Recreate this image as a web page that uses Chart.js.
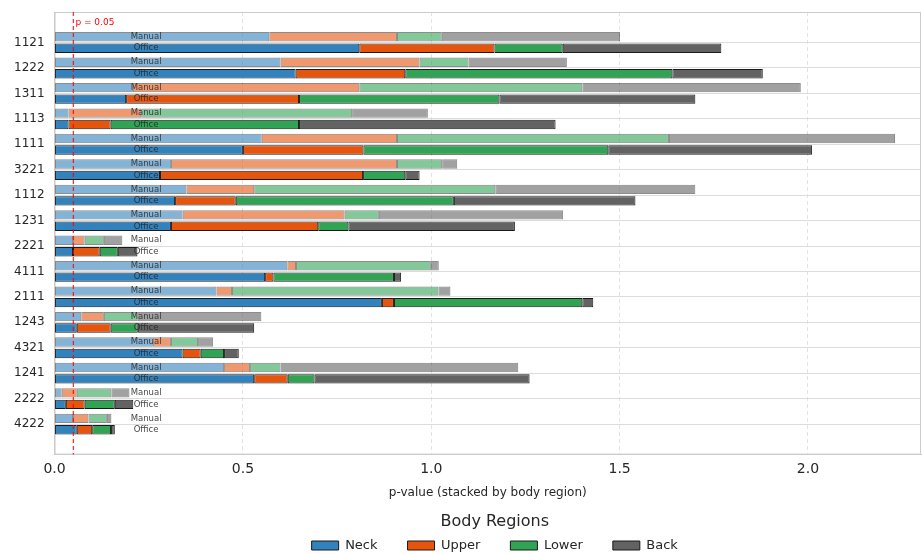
<!DOCTYPE html>
<html>
<head>
<meta charset="utf-8">
<script src="https://cdn.jsdelivr.net/npm/chart.js@4"></script>
<style>
  html, body { margin: 0; padding: 0; background: #fff; }
  #wrap { width: 922px; height: 554px; }
</style>
</head>
<body>
<div id="wrap"><canvas id="chart" width="922" height="554"></canvas></div>
<script>
    "use strict";

    // Job codes, top to bottom
    var codes = ['1121', '1222', '1311', '1113', '1111', '3221', '1112', '1231',
                 '2221', '4111', '2111', '1243', '4321', '1241', '2222', '4222'];

    var regions = ['Neck', 'Upper', 'Lower', 'Back'];

    // p-values per body region, Manual group
    var manualNeck  = [0.570, 0.600, 0.208, 0.037, 0.550, 0.309, 0.350, 0.340, 0.049, 0.618, 0.430, 0.071, 0.261, 0.450, 0.019, 0.049];
    var manualUpper = [0.339, 0.369, 0.601, 0.193, 0.359, 0.600, 0.180, 0.430, 0.031, 0.023, 0.041, 0.060, 0.048, 0.069, 0.040, 0.041];
    var manualLower = [0.119, 0.130, 0.592, 0.560, 0.722, 0.120, 0.640, 0.091, 0.051, 0.358, 0.548, 0.090, 0.072, 0.081, 0.092, 0.049];
    var manualBack  = [0.473, 0.261, 0.580, 0.201, 0.600, 0.040, 0.531, 0.489, 0.049, 0.021, 0.032, 0.328, 0.040, 0.631, 0.048, 0.012];

    // p-values per body region, Office group
    var officeNeck  = [0.809, 0.640, 0.190, 0.037, 0.500, 0.280, 0.320, 0.309, 0.049, 0.559, 0.869, 0.059, 0.340, 0.530, 0.030, 0.059];
    var officeUpper = [0.359, 0.291, 0.459, 0.112, 0.320, 0.539, 0.161, 0.391, 0.071, 0.022, 0.032, 0.090, 0.048, 0.089, 0.050, 0.041];
    var officeLower = [0.181, 0.709, 0.532, 0.500, 0.650, 0.112, 0.579, 0.080, 0.048, 0.320, 0.500, 0.072, 0.062, 0.071, 0.080, 0.050];
    var officeBack  = [0.421, 0.240, 0.520, 0.681, 0.541, 0.038, 0.482, 0.442, 0.052, 0.019, 0.029, 0.309, 0.039, 0.571, 0.049, 0.010];

    var xTicks = [0, 0.5, 1.0, 1.5, 2.0];
    var pThreshold = 0.05;

    var colors = ['#3182bd', '#e6550d', '#31a354', '#636363'];
    var manualColors = ['rgba(49,130,189,0.6)', 'rgba(230,85,13,0.6)', 'rgba(49,163,84,0.6)', 'rgba(99,99,99,0.6)'];

    var manualSeries = [manualNeck, manualUpper, manualLower, manualBack];
    var officeSeries = [officeNeck, officeUpper, officeLower, officeBack];

    function toPoints(values) {
        return values.map(function (v, i) { return {x: v, y: i}; });
    }

    var datasets = [];
    regions.forEach(function (r, k) {
        datasets.push({
            label: r + ' (Manual)',
            stack: 'Manual',
            data: toPoints(manualSeries[k]),
            backgroundColor: manualColors[k],
            borderColor: 'rgba(0,0,0,0.45)',
            borderWidth: 1,
            borderSkipped: false
        });
    });
    regions.forEach(function (r, k) {
        datasets.push({
            label: r,
            stack: 'Office',
            data: toPoints(officeSeries[k]),
            backgroundColor: colors[k],
            borderColor: '#1a1a1a',
            borderWidth: 1,
            borderSkipped: false
        });
    });

    // Frame, group labels and the p = 0.05 line
    var annotations = {
        id: 'annotations',
        afterLayout: function (chart) {
            // center the legend under the plot area rather than the canvas
            var lg = chart.legend;
            var shift = (chart.chartArea.left + chart.chartArea.right) / 2 - (lg.left + lg.right) / 2 + 7;
            lg.left += shift;
            lg.right += shift;
        },
        beforeDatasetsDraw: function (chart) {
            var ctx = chart.ctx, a = chart.chartArea;
            ctx.save();
            ctx.strokeStyle = '#cccccc';
            ctx.lineWidth = 1;
            ctx.strokeRect(a.left + 0.5, a.top + 0.5, a.right - a.left - 1, a.bottom - a.top - 1);
            ctx.restore();
        },
        afterDatasetsDraw: function (chart) {
            var ctx = chart.ctx, a = chart.chartArea, x = chart.scales.x;
            var metaM = chart.getDatasetMeta(0), metaO = chart.getDatasetMeta(4);
            var lx = x.getPixelForValue(0.243);
            ctx.save();
            ctx.font = '8.5px "DejaVu Sans"';
            ctx.fillStyle = 'rgba(38,38,38,0.85)';
            ctx.textAlign = 'center';
            ctx.textBaseline = 'middle';
            codes.forEach(function (c, i) {
                ctx.fillText('Manual', lx, metaM.data[i].y);
                ctx.fillText('Office', lx, metaO.data[i].y);
            });

            var px = x.getPixelForValue(pThreshold);
            ctx.strokeStyle = 'rgba(255,0,0,0.8)';
            ctx.lineWidth = 1.3;
            ctx.setLineDash([4, 3]);
            ctx.beginPath();
            ctx.moveTo(px, a.top);
            ctx.lineTo(px, a.bottom);
            ctx.stroke();
            ctx.setLineDash([]);
            ctx.fillStyle = 'red';
            ctx.textAlign = 'left';
            ctx.font = '9px "DejaVu Sans"';
            ctx.fillText('p = 0.05', px + 2, a.top + 11);
            ctx.restore();
        }
    };

    Chart.defaults.font.family = '"DejaVu Sans", sans-serif';
    Chart.defaults.color = '#262626';

    new Chart(document.getElementById('chart').getContext('2d'), {
        type: 'bar',
        data: {datasets: datasets},
        options: {
            responsive: false,
            animation: false,
            indexAxis: 'y',
            categoryPercentage: 0.9,
            barPercentage: 0.82,
            layout: {padding: {top: 12, right: 1, left: 4, bottom: -8}},
            scales: {
                x: {
                    type: 'linear',
                    stacked: true,
                    min: 0,
                    max: 2.3,
                    afterBuildTicks: function (axis) {
                        axis.ticks = xTicks.map(function (v) { return {value: v}; });
                    },
                    ticks: {
                        font: {size: 14},
                        padding: 6,
                        callback: function (v) { return v.toFixed(1); }
                    },
                    grid: {color: '#e3e3e3', drawTicks: false},
                    border: {color: '#cccccc', dash: [4, 3]},
                    title: {
                        display: true,
                        text: 'p-value (stacked by body region)',
                        font: {size: 12},
                        padding: {top: 2, bottom: 0}
                    }
                },
                y: {
                    type: 'linear',
                    stacked: true,
                    reverse: true,
                    offset: false,
                    min: -1.2,
                    max: 16.2,
                    afterBuildTicks: function (axis) {
                        axis.ticks = codes.map(function (c, i) { return {value: i}; });
                    },
                    afterFit: function (axis) {
                        axis.paddingTop = 0;
                        axis.paddingBottom = 0;
                    },
                    ticks: {
                        font: {size: 12},
                        padding: 10,
                        autoSkip: false,
                        callback: function (v) { return codes[v]; }
                    },
                    grid: {color: '#dcdcdc', drawTicks: false, offset: false},
                    border: {color: '#cccccc'}
                }
            },
            plugins: {
                tooltip: {enabled: false},
                legend: {
                    position: 'bottom',
                    title: {
                        display: true,
                        text: 'Body Regions',
                        font: {size: 16},
                        padding: {top: 14, bottom: -24}
                    },
                    labels: {
                        filter: function (item, data) {
                            return data.datasets[item.datasetIndex].stack === 'Office';
                        },
                        boxWidth: 27,
                        boxHeight: 9,
                        font: {size: 13},
                        padding: 30
                    }
                }
            }
        },
        plugins: [annotations]
    });
</script>
</body>
</html>
